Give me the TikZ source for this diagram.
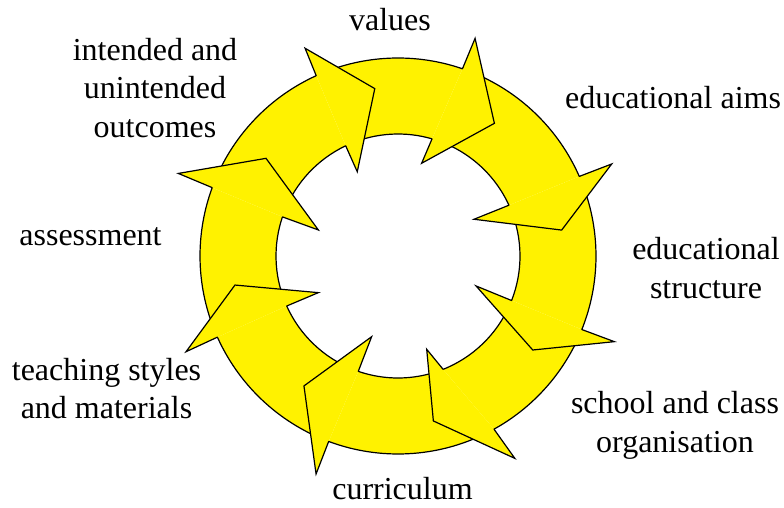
\documentclass[tikz,border=0pt]{standalone}
\usepackage{fontspec}
\setmainfont{Liberation Serif}
\begin{document}
\begin{tikzpicture}[x=1pt,y=1pt,
  ringfill/.style={fill=yellow},
  ringline/.style={draw=black,line width=1.2pt,line cap=round,line join=miter},
  lbl/.style={font=\fontsize{32}{38.3}\selectfont,align=center,inner sep=0pt,anchor=base}]
\useasboundingbox (0,0) rectangle (784,507);

\begin{scope}[shift={(398,251)}]
  % curved bodies of the eight arrows: tail (hidden under the previous head) to head base
  \foreach \ua/\ub/\uc/\ud in {157.3/114.4/115.4/158.8, 111.9/71.0/73.8/112.9,
      68.5/23.7/24.6/71.3, 21.2/-21.8/-21.4/22.1, -24.3/-61.0/-68.3/-23.9,
      -63.5/-110.5/-109.0/-70.8, -113.0/-155.8/-155.8/-111.5, -158.3/-200.2/-198.7/-158.3}{
    \fill[ringfill] (\ua:198) arc[start angle=\ua,end angle=\ub,radius=198pt]
      -- (\uc:122) arc[start angle=\uc,end angle=\ud,radius=122pt] -- cycle;
    \draw[ringline] (\ua:198) arc[start angle=\ua,end angle=\ub,radius=198pt];
    \draw[ringline] (\uc:122) arc[start angle=\uc,end angle=\ud,radius=122pt];
  }
  % arrow heads, laid over the tails of the following arrows
  \foreach \hb/\hoa/\hor/\hta/\htr/\hia/\hir/\hbi in {
      114.4/114.1/227.6/97.9/169/115.8/93.6/115.4,
      71.0/70.5/230.9/54.0/164/75.7/95.7/73.8,
      23.7/23.3/232.7/9.0/165.7/25.8/84.4/24.6,
      -21.8/-21.6/232.7/-34.9/164.3/-21.0/83.6/-21.4,
      -61.0/-60.0/233.7/-77.9/168.7/-72.9/97.6/-68.3,
      -110.5/-110.6/232.9/-125.9/160.4/-108.1/84.9/-109.0,
      -155.8/-155.7/232.6/-169.9/165.6/-155.3/87.7/-155.8,
      -200.2/-200.6/234.7/-216.5/164.2/-198.1/83.8/-198.7}{
    \fill[ringfill] (\hb:198) -- (\hoa:\hor) -- (\hta:\htr) -- (\hia:\hir) -- (\hbi:122) -- cycle;
    \draw[ringline] (\hb:198) -- (\hoa:\hor) -- (\hta:\htr) -- (\hia:\hir) -- (\hbi:122);
  }
\end{scope}

% labels; a multi-line label sits on the baseline of its last line
\node[lbl] (values) at (390,476) {values};
\node[lbl] (aims) at (673,398) {educational aims};
\node[lbl] (structure) at (706,209) {educational\\structure};
\node[lbl] (organisation) at (675,55) {school and class\\organisation};
\node[lbl] (curriculum) at (402.5,8) {curriculum};
\node[lbl] (teaching) at (106.5,88.7) {teaching styles\\and materials};
\node[lbl] (assessment) at (90.5,262) {assessment};
\node[lbl] (outcomes) at (155,369.7) {intended and\\unintended\\outcomes};
\end{tikzpicture}
\end{document}
